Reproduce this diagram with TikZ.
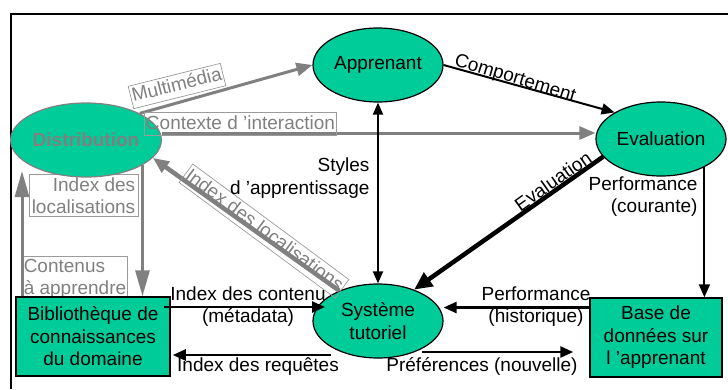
\documentclass[tikz,border=0pt]{standalone}
\usepackage{fontspec}
\setmainfont{Liberation Sans}
\usetikzlibrary{shapes.geometric,arrows.meta}
\definecolor{vert}{RGB}{0,204,153}
\definecolor{gris}{RGB}{128,128,128}
\definecolor{grisclair}{RGB}{155,155,155}
\tikzset{
  bulle/.style={ellipse, draw=black, line width=1.2pt, fill=vert, minimum width=130pt, minimum height=74pt, inner sep=0pt},
  boite/.style={draw=black, line width=1.5pt, fill=vert, align=center, inner sep=0pt},
  fleche/.style={draw=black, line width=2.5pt, -{Triangle[length=13pt,width=11pt]}},
  flechegris/.style={draw=gris, line width=3pt, -{Triangle[length=16pt,width=13pt]}},
  flechelongue/.style={draw=gris, line width=3pt, -{Triangle[length=26pt,width=14pt]}},
  etiqgris/.style={draw=grisclair, line width=0.7pt, text=gris, inner xsep=1.5pt, inner ysep=2.5pt},
  uneligne/.style={text height=14pt, text depth=4pt},
}
\begin{document}
\begin{tikzpicture}[x=1pt, y=-1pt, color = {black}, font=\fontsize{19}{22.5}\selectfont]
    \useasboundingbox (0,0) rectangle (728,389);
    \draw[line width=2pt] (11,389) -- (11,14) -- (728,14);
    % etiquettes grises
    \node[etiqgris, align=right, minimum width=109pt] (lloc) at (83.5,195.5) {Index des\\localisations};
    \node[etiqgris, align=left, minimum width=104pt] (lcont) at (75,279) {Contenus\\à apprendre};
    % noeuds
    \node[bulle] (appr) at (378,65) {Apprenant};
    \node[bulle] (eval) at (661,139) {Evaluation};
    \node[bulle, draw=gris, text=gris] (dist) at (86,140) {\bfseries Distribution};
    \node[bulle, align=center] (sys) at (378,321) {Système\\tutoriel};
    \node[boite, minimum width=154pt, minimum height=79pt] (bib) at (93,336.5) {Bibliothèque de\\connaissances\\du domaine};
    \node[boite, minimum width=132pt, minimum height=79pt] (bdd) at (656,337.5) {Base de\\données sur\\l ’apprenant};
    % fleches grises
    \coordinate (versdist) at (22,171);
    \draw[flechelongue] (bib.north west -| versdist) -- (versdist);
    \draw[flechelongue] (dist.-24.3) -- (dist.-24.3 |- bib.north);
    \draw[flechegris] (dist.north east) -- (appr.west);
    \draw[flechegris] ([yshift=7pt]dist.east) -- ([yshift=6pt]eval.west);
    \draw[flechegris, line width=4.5pt] (sys.142) -- (dist.-15);
    \node[etiqgris, uneligne, rotate=14] (lmulti) at (177,86) {Multimédia};
    \node[etiqgris, uneligne] (lctx) at (240.5,124) {Contexte d ’interaction};
    \node[etiqgris, uneligne, rotate=-36.5] (ldiag) at (264,231) {Index des localisations};
    % fleches noires
    \draw[fleche, line width=2pt] (appr.east) -- (eval.north west);
    \draw[fleche, line width=2pt, {Triangle[length=12pt,width=10pt]}-{Triangle[length=12pt,width=10pt]}] (appr.south) -- (sys.north);
    \draw[fleche, line width=4.5pt, -{Triangle[length=18pt,width=16pt]}] (eval.197) -- (sys.41);
    \draw[fleche, line width=2pt] (eval.-33) -- (eval.-33 |- bdd.north);
    \draw[fleche] ([yshift=30pt]bdd.west) -- ([yshift=30pt]bdd.west -| sys.east);
    \draw[fleche] ([shift={(44,31)}]sys.center) -- ([shift={(-16,14.5)}]bdd.west);
    \draw[fleche] ([shift={(-7,-29.5)}]bib.east) -- ([shift={(-53,-14)}]sys.center);
    \draw[fleche] ([shift={(-47,34)}]sys.center) -- ([shift={(2,18.5)}]bib.east);
    % etiquettes noires
    \node[rotate=-17] (lcomp) at (515,79) {Comportement};
    \node[align=right, anchor=east] (lstyle) at (373,178) {Styles\\d ’apprentissage};
    \node[rotate=35.3] (leval) at (553,181) {Evaluation};
    \node[align=right, anchor=east] (lcour) at (701,196.5) {Performance\\(courante)};
    \node[align=center] (lhist) at (536,306.5) {Performance\\(historique)};
    \node (lpref) at (482,366) {Préférences (nouvelle)};
    \node[align=center] (lmeta) at (248,306.5) {Index des contenu\\(métadata)};
    \node (lreq) at (258,367) {Index des requêtes};
\end{tikzpicture}
\end{document}
